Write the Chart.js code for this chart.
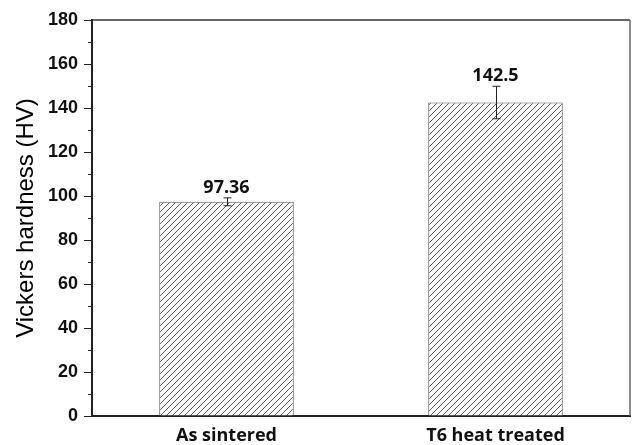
<!DOCTYPE html>
<html><head><meta charset="utf-8">
<script src="https://cdn.jsdelivr.net/npm/chart.js@4/dist/chart.umd.min.js"></script>
<style>html,body{margin:0;padding:0;background:#fff;}#wrap{width:632px;height:445px;}</style>
</head><body><div id="wrap"><canvas id="c" width="632" height="445"></canvas></div>
<script>
const categories = ["As sintered", "T6 heat treated"];
const hardness = [97.36, 142.5];
const errors = [1.8, 7.4];
const valueLabels = ["97.36", "142.5"];
const yTicks = [0, 20, 40, 60, 80, 100, 120, 140, 160, 180];

function hatch() {
  const s = 6;
  const c = document.createElement('canvas');
  c.width = s; c.height = s;
  const g = c.getContext('2d');
  g.fillStyle = '#fff'; g.fillRect(0, 0, s, s);
  g.strokeStyle = '#4a4a4a'; g.lineWidth = 0.9;
  g.beginPath();
  g.moveTo(-1, s + 1); g.lineTo(s + 1, -1);
  g.moveTo(-1, 1); g.lineTo(1, -1);
  g.moveTo(s - 1, s + 1); g.lineTo(s + 1, s - 1);
  g.stroke();
  return document.getElementById('c').getContext('2d').createPattern(c, 'repeat');
}

const extras = {
  id: 'extras',
  afterDatasetsDraw(chart) {
    const ctx = chart.ctx, y = chart.scales.y, a = chart.chartArea;
    const meta = chart.getDatasetMeta(0);
    ctx.save();
    ctx.strokeStyle = '#333'; ctx.lineWidth = 1.5;
    ctx.beginPath();
    ctx.moveTo(a.left, a.top); ctx.lineTo(a.right, a.top);
    ctx.stroke();
    ctx.strokeStyle = '#666';
    ctx.beginPath();
    ctx.moveTo(a.right, a.top); ctx.lineTo(a.right, a.bottom);
    ctx.stroke();
    ctx.strokeStyle = '#222'; ctx.lineWidth = 1;
    for (let i = 0; i < yTicks.length - 1; i++) {
      const v = (yTicks[i] + yTicks[i + 1]) / 2;
      const py = Math.round(y.getPixelForValue(v)) + 0.5;
      ctx.beginPath(); ctx.moveTo(a.left - 4, py); ctx.lineTo(a.left, py); ctx.stroke();
    }
    meta.data.forEach((bar, i) => {
      const cx = Math.round(bar.x) + 0.5;
      const yt = y.getPixelForValue(hardness[i] + errors[i]);
      const yb = y.getPixelForValue(hardness[i] - errors[i]);
      ctx.strokeStyle = '#222'; ctx.lineWidth = 1;
      ctx.beginPath();
      ctx.moveTo(cx, yt); ctx.lineTo(cx, yb);
      ctx.moveTo(cx - 4, yt); ctx.lineTo(cx + 4, yt);
      ctx.moveTo(cx - 4, yb); ctx.lineTo(cx + 4, yb);
      ctx.stroke();
      ctx.fillStyle = '#111';
      ctx.font = 'bold 18px "Open Sans", sans-serif';
      ctx.textAlign = 'center'; ctx.textBaseline = 'alphabetic';
      ctx.fillText(valueLabels[i], bar.x, Math.min(yt, bar.y) - 5);
    });
    ctx.restore();
  }
};

new Chart(document.getElementById('c'), {
  type: 'bar',
  data: {
    labels: categories,
    datasets: [{
      data: hardness,
      backgroundColor: hatch(),
      borderColor: '#555',
      borderWidth: 1,
      barPercentage: 0.5,
      categoryPercentage: 1.0
    }]
  },
  options: {
    responsive: false,
    animation: false,
    devicePixelRatio: 1,
    layout: { padding: { top: 20, right: 2, left: 0, bottom: 0 } },
    plugins: { legend: { display: false }, tooltip: { enabled: false } },
    scales: {
      x: {
        grid: { display: false, drawTicks: false },
        border: { display: true, color: '#222', width: 2 },
        ticks: { color: '#111', font: { family: '"Open Sans", sans-serif', weight: 'bold', size: 18 }, padding: 9 },
        afterFit(s) { s.height = 29; }
      },
      y: {
        min: 0, max: 180,
        afterBuildTicks(s) { s.ticks = yTicks.map(v => ({ value: v })); },
        grid: { display: true, drawOnChartArea: false, drawTicks: true, tickLength: 8, color: '#222', lineWidth: 1 },
        border: { display: true, color: '#222', width: 2 },
        ticks: { color: '#111', font: { family: '"Liberation Sans", Arial, sans-serif', weight: 'bold', size: 18 }, padding: 6 },
        title: { display: true, text: 'Vickers hardness (HV)', color: '#000', font: { family: '"Liberation Sans", Arial, sans-serif', size: 24 }, padding: { top: 12, bottom: 0 } },
        afterFit(s) { s.width = 92; }
      }
    }
  },
  plugins: [extras]
});
</script>
</body></html>
